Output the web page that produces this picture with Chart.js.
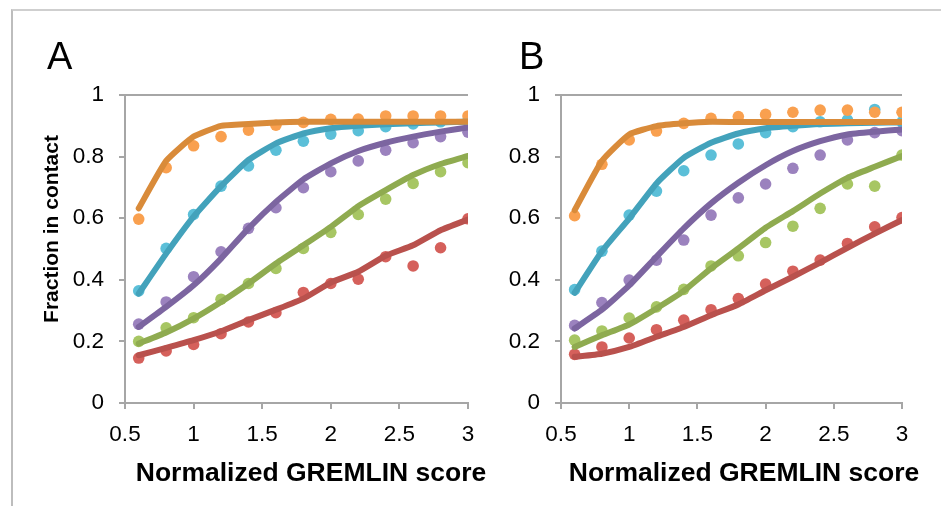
<!DOCTYPE html>
<html>
<head>
<meta charset="utf-8">
<script src="https://cdn.jsdelivr.net/npm/chart.js@4.4.1/dist/chart.umd.min.js"></script>
<style>
  html, body { margin: 0; padding: 0; background: #fff; }
  body { width: 941px; height: 506px; position: relative; overflow: hidden; font-family: "Liberation Sans", Arial, sans-serif; }
  .frame { position: absolute; left: 11px; top: 9px; right: 0; bottom: 0; border-top: 2px solid #cfcfcf; border-left: 2px solid #bdbdbd; }
  .panel { position: absolute; top: 0; }
  .tag { position: absolute; font-size: 38px; color: #000; line-height: 1; }
  .ytitle { position: absolute; font-weight: bold; font-size: 21px; color: #000; white-space: nowrap;
            transform: translate(-50%, -50%) rotate(-90deg); }
  .xtitle { position: absolute; font-weight: bold; font-size: 26.5px; color: #000; white-space: nowrap;
            transform: translate(-50%, -50%); }
</style>
</head>
<body>
<div class="frame"></div>
<canvas id="chartA" class="panel" style="left:0" width="490" height="506"></canvas>
<canvas id="chartB" class="panel" style="left:470px" width="471" height="506"></canvas>
<div class="tag" style="left:47px; top:37px">A</div>
<div class="tag" style="left:519px; top:37px">B</div>
<div class="ytitle" style="left:51px; top:229px">Fraction in contact</div>
<div class="xtitle" style="left:311px; top:472px">Normalized GREMLIN score</div>
<div class="xtitle" style="left:744px; top:472px">Normalized GREMLIN score</div>
<script>
// valeurs (x = score GREMLIN normalisé)
const scores = [0.6, 0.8, 1.0, 1.2, 1.4, 1.6, 1.8, 2.0, 2.2, 2.4, 2.6, 2.8, 3.0];
const xTickLabels = ['0.5', '1', '1.5', '2', '2.5', '3'];
const yTickLabels = ['0', '0.2', '0.4', '0.6', '0.8', '1'];

// panneau A
const orangeDotsA = [0.597, 0.764, 0.835, 0.865, 0.886, 0.902, 0.911, 0.921, 0.922, 0.932, 0.932, 0.932, 0.932];
const orangeLineA = [0.632, 0.786, 0.865, 0.900, 0.906, 0.911, 0.913, 0.913, 0.913, 0.913, 0.913, 0.913, 0.913];
const cyanDotsA   = [0.364, 0.502, 0.612, 0.704, 0.770, 0.821, 0.850, 0.873, 0.884, 0.897, 0.906, 0.913, 0.917];
const cyanLineA   = [0.355, 0.485, 0.605, 0.704, 0.789, 0.843, 0.875, 0.892, 0.900, 0.905, 0.908, 0.911, 0.913];
const purpleDotsA = [0.256, 0.328, 0.410, 0.491, 0.567, 0.634, 0.699, 0.751, 0.786, 0.821, 0.845, 0.865, 0.879];
const purpleLineA = [0.247, 0.312, 0.382, 0.469, 0.567, 0.653, 0.726, 0.778, 0.818, 0.845, 0.865, 0.881, 0.895];
const greenDotsA  = [0.200, 0.244, 0.277, 0.337, 0.388, 0.437, 0.502, 0.554, 0.612, 0.662, 0.713, 0.751, 0.780];
const greenLineA  = [0.193, 0.229, 0.274, 0.328, 0.388, 0.453, 0.512, 0.572, 0.639, 0.691, 0.740, 0.776, 0.802];
const redDotsA    = [0.146, 0.169, 0.190, 0.225, 0.263, 0.293, 0.359, 0.388, 0.402, 0.475, 0.445, 0.504, 0.598];
const redLineA    = [0.155, 0.179, 0.204, 0.233, 0.269, 0.303, 0.339, 0.391, 0.426, 0.478, 0.512, 0.561, 0.596];

// panneau B
const orangeDotsB = [0.608, 0.775, 0.854, 0.883, 0.908, 0.924, 0.930, 0.937, 0.944, 0.951, 0.951, 0.944, 0.944];
const orangeLineB = [0.626, 0.786, 0.872, 0.899, 0.908, 0.913, 0.912, 0.912, 0.912, 0.912, 0.912, 0.912, 0.912];
const cyanDotsB   = [0.368, 0.493, 0.610, 0.688, 0.754, 0.805, 0.841, 0.878, 0.897, 0.913, 0.919, 0.953, 0.913];
const cyanLineB   = [0.358, 0.493, 0.599, 0.713, 0.796, 0.845, 0.875, 0.892, 0.900, 0.906, 0.908, 0.910, 0.911];
const purpleDotsB = [0.252, 0.326, 0.399, 0.464, 0.529, 0.610, 0.666, 0.711, 0.762, 0.805, 0.854, 0.878, 0.884];
const purpleLineB = [0.242, 0.303, 0.382, 0.475, 0.567, 0.648, 0.715, 0.772, 0.818, 0.850, 0.872, 0.881, 0.888];
const greenDotsB  = [0.204, 0.234, 0.276, 0.312, 0.369, 0.445, 0.478, 0.521, 0.574, 0.632, 0.711, 0.704, 0.805];
const greenLineB  = [0.182, 0.220, 0.255, 0.307, 0.364, 0.437, 0.502, 0.569, 0.623, 0.680, 0.731, 0.767, 0.802];
const redDotsB    = [0.158, 0.182, 0.211, 0.238, 0.269, 0.303, 0.339, 0.386, 0.428, 0.464, 0.518, 0.572, 0.602];
const redLineB    = [0.150, 0.160, 0.182, 0.215, 0.247, 0.285, 0.320, 0.366, 0.410, 0.456, 0.504, 0.550, 0.594];

const lineColors = ['#D98B3A', '#43A2BB', '#7C65A0', '#8FAB50', '#B9514D'];
const dotColors  = ['#F9A04F', '#5BBFD8', '#9B82BE', '#A7C663', '#D5605B'];
const axisGray = '#a6a6a6';

function pts(values) {
  return values.map((v, i) => ({ x: scores[i], y: v }));
}

function buildDatasets(lines, dots) {
  const sets = [];
  lines.forEach((vals, i) => {
    sets.push({
      data: pts(vals), showLine: true, borderColor: lineColors[i], backgroundColor: lineColors[i],
      borderWidth: 6, borderCapStyle: 'round', borderJoinStyle: 'round',
      pointRadius: 0, tension: 0.15, order: 0
    });
  });
  dots.forEach((vals, i) => {
    sets.push({
      data: pts(vals), showLine: false, backgroundColor: dotColors[i],
      borderWidth: 0, pointRadius: 5.8, order: 1
    });
  });
  return sets;
}

function makeChart(id, lines, dots, yWidth, padRight) {
  return new Chart(document.getElementById(id), {
    type: 'scatter',
    data: { datasets: buildDatasets(lines, dots) },
    options: {
      responsive: false,
      animation: false,
      layout: { padding: { top: 95, right: padRight, bottom: 0, left: 0 } },
      plugins: { legend: { display: false }, tooltip: { enabled: false } },
      scales: {
        x: {
          type: 'linear', min: 0.5, max: 3,
          afterFit: s => { s.height = 103; },
          border: { color: axisGray, width: 2 },
          grid: { drawOnChartArea: false, color: axisGray, tickColor: axisGray, tickLength: 6, lineWidth: 2 },
          ticks: {
            stepSize: 0.5, padding: 12, color: '#000',
            font: { family: 'Liberation Sans', size: 22.5 },
            callback: (v) => xTickLabels[Math.round((v - 0.5) / 0.5)]
          }
        },
        y: {
          min: 0, max: 1,
          afterFit: s => { s.width = yWidth; },
          border: { color: axisGray, width: 2 },
          grid: {
            color: c => (c.tick && c.tick.value === 1 ? axisGray : 'rgba(0,0,0,0)'),
            tickColor: axisGray, tickLength: 6, lineWidth: 2
          },
          ticks: {
            stepSize: 0.2, padding: 15, color: '#000',
            font: { family: 'Liberation Sans', size: 22.5 },
            callback: (v) => yTickLabels[Math.round(v / 0.2)]
          }
        }
      }
    }
  });
}

makeChart('chartA',
  [orangeLineA, cyanLineA, purpleLineA, greenLineA, redLineA],
  [orangeDotsA, cyanDotsA, purpleDotsA, greenDotsA, redDotsA], 125, 22);
makeChart('chartB',
  [orangeLineB, cyanLineB, purpleLineB, greenLineB, redLineB],
  [orangeDotsB, cyanDotsB, purpleDotsB, greenDotsB, redDotsB], 91, 39);
</script>
</body>
</html>
